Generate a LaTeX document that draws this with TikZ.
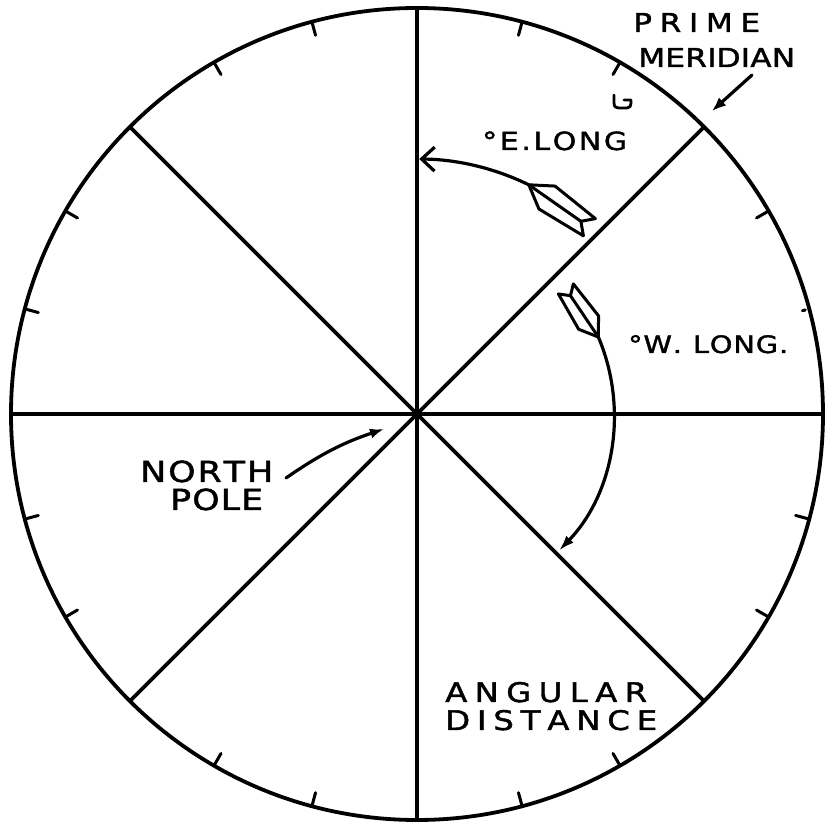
\documentclass[tikz,border=0pt]{standalone}
\usepackage{fontspec}
\newfontfamily\hand[FakeStretch=1.2,FakeBold=1.6]{DejaVu Sans}
\usetikzlibrary{arrows.meta,calc}
\newcommand\spreadbox[2]{\makebox[#1][s]{#2}}
\begin{document}
\begin{tikzpicture}[x=1pt,y=1pt,
  line/.style={line width=3.8pt,line cap=round},
  tickmark/.style={line width=3pt,line cap=round},
  fl/.style={line width=3pt,line join=round},
  lbl/.style={inner sep=0pt,anchor=base west},
  pics/fletch/.style n args={2}{code={
    \draw[fl] (0,0) -- (0.3*#1,#2) -- (#1,0.75*#2) -- (0.86*#1,0) -- (#1,-0.75*#2) -- (0.3*#1,-#2) -- cycle;
    \draw[fl] (0,0) -- (0.86*#1,0);
  }}]
\useasboundingbox (0,0) rectangle (837,826);
\fill[white] (0,0) rectangle (837,826);
\coordinate (C) at (417,412);
% globe outline
\draw[line] (C) circle[radius=406];
% meridians
\foreach \a in {0,45,...,315} \coordinate (s\a) at ($(C)+(\a:404)$);
\draw[line] (s0) -- (s180);
\draw[line] (s45) -- (s225);
\draw[line] (s90) -- (s270);
\draw[line] (s135) -- (s315);
% tick marks
\foreach \a in {30,60,75,105,120,150,165,195,210,240,255,285,300,330,345}
  \draw[tickmark] ($(C)+(\a:405)$) -- ($(C)+(\a:392)$);
\draw[tickmark] ($(C)+(15:402)$) -- ($(C)+(15:399)$);
% E. Long arrow
\coordinate (Ef) at ($(C)+(64:255)$);
\draw[line width=3.2pt,-{Straight Barb[length=13pt,width=24pt,line width=3.2pt]}]
  (Ef) arc[start angle=64,end angle=89.5,radius=255];
\pic[rotate=-35] at (Ef) {fletch={74}{14}};
% W. Long arrow
\coordinate (Wf) at ($(C)+(23:197)$);
\draw[line width=3.2pt,-{Latex[length=16pt,width=10pt]}]
  (Wf) arc[start angle=23,end angle=-44,radius=197];
\pic[rotate=124] at (Wf) {fletch={58}{12}};
% labels
\node[lbl,font=\hand\fontsize{26}{26}\selectfont] (prime) at (633,794)
  {\spreadbox{127pt}{P\hfil R\hfil I\hfil M\hfil E}};
\node[lbl,font=\hand\fontsize{26}{26}\selectfont] (meridian) at (638,759)
  {\spreadbox{157pt}{M\hfil E\hfil R\hfil I\hfil D\hfil I\hfil A\hfil N}};
\node[lbl,font=\hand\fontsize{25}{25}\selectfont] (elong) at (482,676)
  {\spreadbox{145pt}{°\hfil E\hfil .\hfil L\hfil O\hfil N\hfil G}};
\node[lbl,font=\hand\fontsize{24}{24}\selectfont] (wlong) at (628,473)
  {\spreadbox{160pt}{°\hfil W\hfil .\hspace{10pt}\hfil L\hfil O\hfil N\hfil G\hfil .}};
\node[lbl,font=\hand\fontsize{29}{29}\selectfont] (north) at (140,344)
  {\spreadbox{133pt}{N\hfil O\hfil R\hfil T\hfil H}};
\node[lbl,font=\hand\fontsize{29}{29}\selectfont] (pole) at (170,316)
  {\spreadbox{93pt}{P\hfil O\hfil L\hfil E}};
\node[lbl,font=\hand\fontsize{27}{27}\selectfont] (angular) at (445,124)
  {\spreadbox{202pt}{A\hfil N\hfil G\hfil U\hfil L\hfil A\hfil R}};
\node[lbl,font=\hand\fontsize{27}{27}\selectfont] (distance) at (445,96)
  {\spreadbox{212pt}{D\hfil I\hfil S\hfil T\hfil A\hfil N\hfil C\hfil E}};
% pointer arrows
\coordinate (npA) at (286,348);
\coordinate (npB) at (384,397);
\draw[line width=3.2pt,line cap=round,-{Latex[length=14pt,width=10pt]}] (npA) to[bend left=8] (npB);
\coordinate (pmA) at (752,751);
\coordinate (pmB) at (712,715);
\draw[line width=3.2pt,line cap=round,-{Latex[length=14pt,width=11pt]}] (pmA) -- (pmB);
% small stray mark
\draw[line width=2.8pt,line cap=round,line join=round]
  (614,731) -- (614,723) .. controls (614,719) and (616,718) .. (620,718)
  -- (627,718) .. controls (630,718) and (631,720) .. (631,723) -- (631,726) -- (624,726);
\end{tikzpicture}
\end{document}
